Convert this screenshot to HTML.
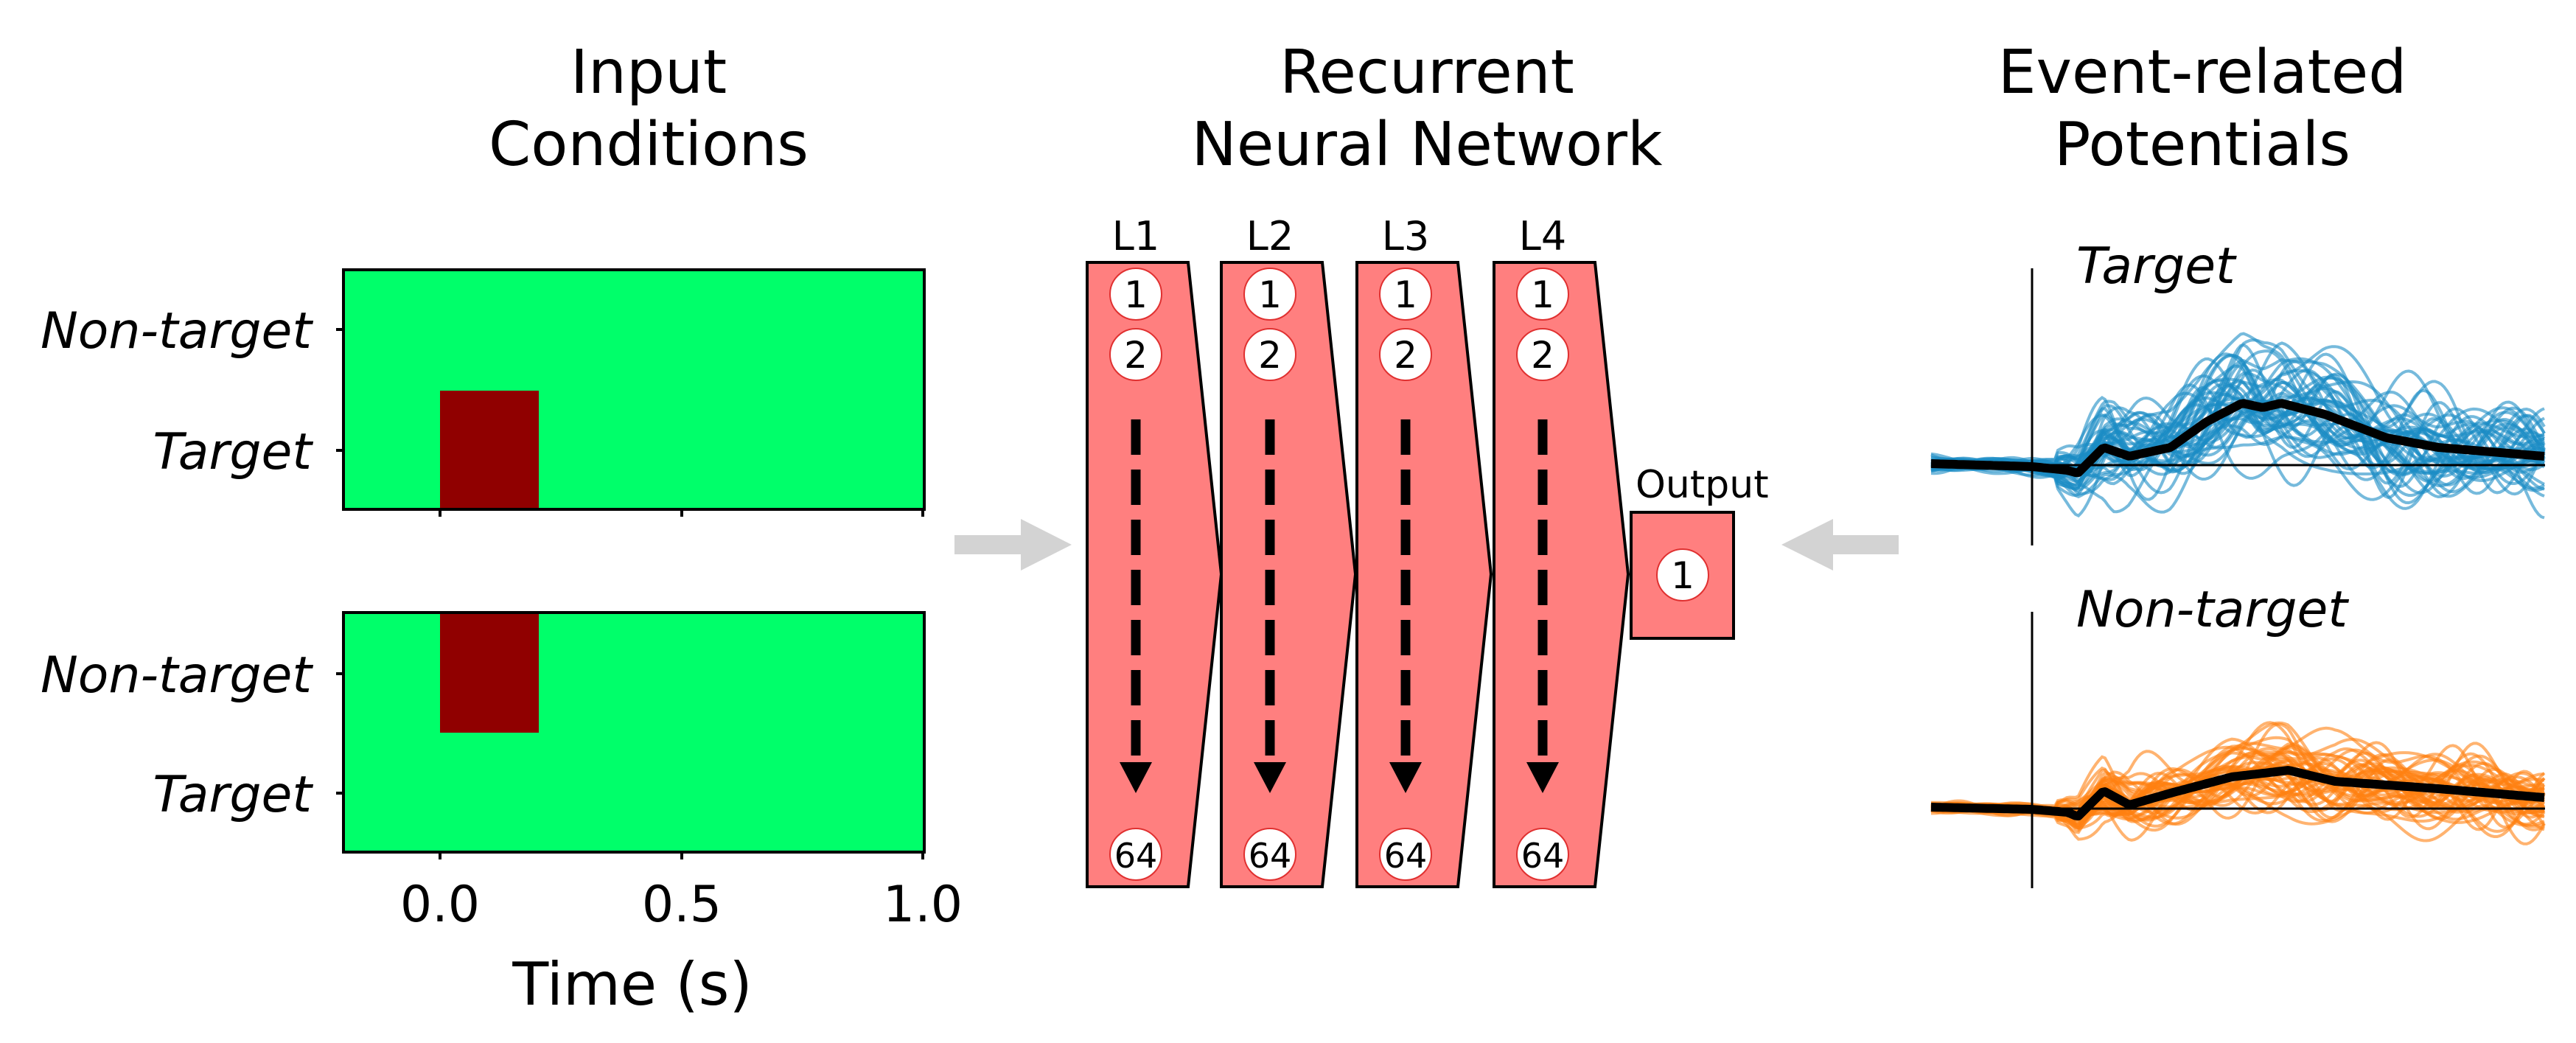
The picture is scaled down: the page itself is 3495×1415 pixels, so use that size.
<!DOCTYPE html>
<html><head><meta charset="utf-8"><style>
html,body{margin:0;padding:0;background:#fff;}
svg{display:block;}
text{font-family:"DejaVu Sans","Liberation Sans",sans-serif;fill:#000;}
.it{font-style:oblique;}
</style></head><body>
<svg id="s" width="3495" height="1415" viewBox="0 0 3495 1415" xmlns="http://www.w3.org/2000/svg">
<text x="880" y="126" font-size="82" text-anchor="middle">Input</text>
<text x="880" y="224" font-size="82" text-anchor="middle">Conditions</text>
<text x="1936" y="126" font-size="82" text-anchor="middle">Recurrent</text>
<text x="1936" y="224" font-size="82" text-anchor="middle">Neural Network</text>
<text x="2988" y="126" font-size="82" text-anchor="middle">Event-related</text>
<text x="2988" y="224" font-size="82" text-anchor="middle">Potentials</text>

<rect x="466" y="366" width="788" height="325" fill="#00ff6a"/>
<rect x="597" y="530" width="134" height="159" fill="#900000"/>
<rect x="466" y="366" width="788" height="325" fill="none" stroke="#000" stroke-width="4"/>
<rect x="466" y="831" width="788" height="325" fill="#00ff6a"/>
<rect x="597" y="833" width="134" height="161" fill="#900000"/>
<rect x="466" y="831" width="788" height="325" fill="none" stroke="#000" stroke-width="4"/>
<g stroke="#000" stroke-width="4">
<line x1="456" y1="447" x2="466" y2="447"/><line x1="456" y1="611" x2="466" y2="611"/>
<line x1="456" y1="914" x2="466" y2="914"/><line x1="456" y1="1076" x2="466" y2="1076"/>
<line x1="597" y1="691" x2="597" y2="701"/><line x1="925" y1="691" x2="925" y2="701"/><line x1="1252" y1="691" x2="1252" y2="701"/>
<line x1="597" y1="1156" x2="597" y2="1166"/><line x1="925" y1="1156" x2="925" y2="1166"/><line x1="1252" y1="1156" x2="1252" y2="1166"/>
</g>
<text class="it" x="423" y="472" font-size="68" text-anchor="end">Non-target</text>
<text class="it" x="423" y="636" font-size="68" text-anchor="end">Target</text>
<text class="it" x="423" y="939" font-size="68" text-anchor="end">Non-target</text>
<text class="it" x="423" y="1101" font-size="68" text-anchor="end">Target</text>
<text x="597" y="1250" font-size="68" text-anchor="middle">0.0</text>
<text x="925" y="1250" font-size="68" text-anchor="middle">0.5</text>
<text x="1252" y="1250" font-size="68" text-anchor="middle">1.0</text>
<text x="858" y="1363" font-size="80" text-anchor="middle">Time (s)</text>

<polygon points="1295,726 1385,726 1385,704 1454,739 1385,774 1385,752 1295,752" fill="#d3d3d3"/>
<polygon points="2576,726 2487,726 2487,704 2417,739 2487,774 2487,752 2576,752" fill="#d3d3d3"/>

<g id="net"></g>

<text x="2219" y="675" font-size="52">Output</text>
<rect x="2213" y="695" width="139" height="171" fill="#ff7f7f" stroke="#000" stroke-width="4"/>
<circle cx="2283" cy="780" r="35" fill="#fff" stroke="#e03030" stroke-width="2"/>
<text x="2283" y="798" font-size="50" text-anchor="middle">1</text>

<g id="erp"></g>
<line x1="2757" y1="364" x2="2757" y2="740" stroke="#000" stroke-width="3"/>
<line x1="2757" y1="830" x2="2757" y2="1205" stroke="#000" stroke-width="3"/>
<text class="it" x="2817" y="384" font-size="68">Target</text>
<text class="it" x="2817" y="850" font-size="68">Non-target</text>
</svg>
<script>
var NS="http://www.w3.org/2000/svg";
function el(p,t,a,txt){var e=document.createElementNS(NS,t);for(var k in a)e.setAttribute(k,a[k]);if(txt!==undefined)e.textContent=txt;p.appendChild(e);return e;}
var net=document.getElementById('net');
var lefts=[1475,1657,1841,2027];
for(var i=0;i<4;i++){
  var L=lefts[i],R=L+137,T=R+45;
  el(net,'polygon',{points:L+',356 '+R+',356 '+T+',779 '+R+',1203 '+L+',1203',fill:'#ff7f7f',stroke:'#000','stroke-width':4});
  var cx=L+66;
  el(net,'text',{x:cx,y:339,'font-size':54,'text-anchor':'middle'},'L'+(i+1));
  [[399,'1'],[481,'2'],[1159,'64']].forEach(function(c){
    el(net,'circle',{cx:cx,cy:c[0],r:35,fill:'#fff',stroke:'#e03030','stroke-width':2});
    el(net,'text',{x:cx,y:c[0]+18,'font-size':c[1]=='64'?46:50,'text-anchor':'middle'},c[1]);
  });
  el(net,'line',{x1:cx,y1:569,x2:cx,y2:1034,stroke:'#000','stroke-width':13,'stroke-dasharray':'48,20'});
  el(net,'polygon',{points:(cx-22)+',1034 '+(cx+22)+',1034 '+cx+',1076',fill:'#000'});
}
var seed=12345;function rnd(){seed=(seed*1103515245+12345)%2147483648;return seed/2147483648;}
function interp(pts,x){for(var i=0;i<pts.length-1;i++){if(x<=pts[i+1][0]){var t=(x-pts[i][0])/(pts[i+1][0]-pts[i][0]);return pts[i][1]+t*(pts[i+1][1]-pts[i][1]);}}return pts[pts.length-1][1];}
var tMean=[[2620,629],[2757,633],[2805,638],[2819,642],[2854,607],[2889,619],[2945,607],[2994,572],[3042,547],[3070,553],[3095,547],[3154,562],[3238,594],[3308,607],[3392,614],[3451,619]];
var nMean=[[2620,1095],[2757,1098],[2805,1102],[2819,1108],[2854,1073],[2889,1092],[2945,1076],[3028,1054],[3105,1045],[3168,1060],[3308,1070],[3451,1082]];
var erp=document.getElementById('erp');
function traces(mean,base,col,amp,n){
  for(var k=0;k<n;k++){
    var comps=[];for(var j=0;j<6;j++)comps.push([rnd()*2-1,0.006+rnd()*0.05,rnd()*6.28]);
    var scale=0.4+rnd()*1.3;
    var d='';
    for(var x=2620;x<=3453;x+=4){
      var env=x<2790?0.18:Math.min(1,0.35+(x-2790)/120);
      var v=0;comps.forEach(function(c){v+=c[0]*Math.sin(c[1]*x+c[2]);});
      var m=interp(mean,x);
      var y=m+(m-base)*(scale-1)+v*amp*env/2.4;
      d+=(x==2620?'M':'L')+x+','+y.toFixed(1);
    }
    el(erp,'path',{d:d,fill:'none',stroke:col,'stroke-width':4,'stroke-opacity':0.6});
  }
  var d2='';for(var x=2620;x<=3453;x+=4){d2+=(x==2620?'M':'L')+x+','+interp(mean,x).toFixed(1);}
  el(erp,'line',{x1:2620,y1:base,x2:3453,y2:base,stroke:'#000','stroke-width':3});
  el(erp,'path',{d:d2,fill:'none',stroke:'#000','stroke-width':12,'stroke-linejoin':'round'});
}
traces(tMean,631,'#1b8cc4',70,45);
traces(nMean,1097,'#ff8010',45,45);
</script>
</body></html>
